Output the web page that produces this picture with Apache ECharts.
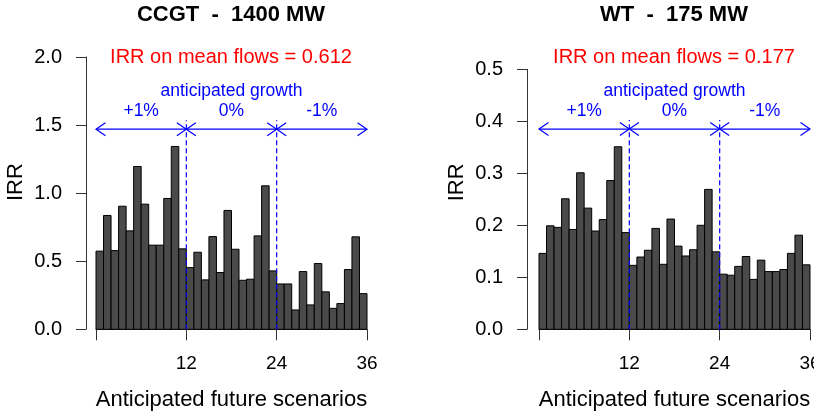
<!DOCTYPE html>
<html><head><meta charset="utf-8">
<script src="https://cdn.jsdelivr.net/npm/echarts@6/dist/echarts.min.js"></script>
<style>html,body{margin:0;padding:0;background:#fff}#c{width:814px;height:412px}</style>
</head><body><div id="c"></div>
<script>
// ---- data ----
const ccgtIRR = [0.574, 0.836, 0.578, 0.904, 0.723, 1.196, 0.919, 0.618, 0.618, 0.961, 1.343, 0.591,
                 0.453, 0.566, 0.363, 0.681, 0.417, 0.873, 0.588, 0.360, 0.368, 0.686, 1.054, 0.429,
                 0.333, 0.333, 0.142, 0.424, 0.179, 0.483, 0.275, 0.154, 0.189, 0.439, 0.679, 0.262];
const wtIRR = [0.146, 0.199, 0.196, 0.251, 0.192, 0.301, 0.233, 0.189, 0.211, 0.286, 0.351, 0.186,
               0.123, 0.139, 0.152, 0.194, 0.125, 0.212, 0.160, 0.141, 0.153, 0.200, 0.269, 0.149,
               0.106, 0.104, 0.121, 0.140, 0.096, 0.133, 0.111, 0.111, 0.115, 0.146, 0.181, 0.124];
const scenarioTicks = [0, 12, 24, 36];
const growthBoundaries = [12, 24];
const growthSegments = [[0, 12], [12, 24], [24, 36]];
const growthLabels = ['+1%', '0%', '-1%'];
const growthTitle = 'anticipated growth';
const ccgtTitle = 'CCGT  -  1400 MW';
const wtTitle = 'WT  -  175 MW';
const ccgtMeanIRR = 0.612;
const wtMeanIRR = 0.177;
const ccgtTicks = [0, 0.5, 1.0, 1.5, 2.0];
const wtTicks = [0, 0.1, 0.2, 0.3, 0.4, 0.5];

// ---- styles / layout ----
const FONT = '"Liberation Sans", Arial, sans-serif';
const BLUE = '#0000ff';
const AXIS = '#333';
const ccgtArrowLevel = 1.47;
const wtArrowLevel = 0.385;

function barSeries(xIdx, yIdx, values) {
  return {
    type: 'custom', xAxisIndex: xIdx, yAxisIndex: yIdx, silent: true, clip: false,
    encode: {x: [0, 1], y: 2},
    data: values.map((v, i) => [i, i + 1, v]),
    renderItem: function (params, api) {
      const p0 = api.coord([api.value(0), 0]);
      const p1 = api.coord([api.value(1), api.value(2)]);
      return {type: 'rect', shape: {x: p0[0], y: p1[1], width: p1[0] - p0[0], height: p0[1] - p1[1]},
        style: {fill: '#4a4a4a', stroke: '#000', lineWidth: 1}};
    }
  };
}
function arrowSeries(xIdx, yIdx, level) {
  return {
    type: 'custom', xAxisIndex: xIdx, yAxisIndex: yIdx, silent: true, clip: false,
    encode: {x: [0, 1], y: 2},
    data: growthSegments.map(s => [s[0], s[1], level]),
    renderItem: function (params, api) {
      const p0 = api.coord([api.value(0), api.value(2)]);
      const p1 = api.coord([api.value(1), api.value(2)]);
      const y = p0[1];
      const ah = 9.5, aw = 6.5;
      const st = {stroke: BLUE, lineWidth: 1.2, fill: null};
      const children = [
        {type: 'line', shape: {x1: p0[0], y1: y, x2: p1[0], y2: y}, style: st},
        {type: 'polyline', shape: {points: [[p0[0] + ah, y - aw], [p0[0], y], [p0[0] + ah, y + aw]]}, style: st},
        {type: 'polyline', shape: {points: [[p1[0] - ah, y - aw], [p1[0], y], [p1[0] - ah, y + aw]]}, style: st},
        {type: 'text', x: (p0[0] + p1[0]) / 2, y: y - 18,
          style: {text: growthLabels[params.dataIndex], fill: BLUE, font: '17.5px ' + FONT, align: 'center', verticalAlign: 'middle'}}
      ];
      if (params.dataIndex === 1) {
        children.push({type: 'text', x: (p0[0] + p1[0]) / 2, y: y - 38,
          style: {text: growthTitle, fill: BLUE, font: '17.5px ' + FONT, align: 'center', verticalAlign: 'middle'}});
      }
      return {type: 'group', children: children};
    }
  };
}
function dashSeries(xIdx, yIdx, level) {
  return {
    type: 'custom', xAxisIndex: xIdx, yAxisIndex: yIdx, silent: true, clip: false,
    encode: {x: 0, y: 1},
    data: growthBoundaries.map(b => [b, 0, level]),
    renderItem: function (params, api) {
      const p0 = api.coord([api.value(0), api.value(1)]);
      const p1 = api.coord([api.value(0), api.value(2)]);
      return {type: 'line', shape: {x1: p0[0], y1: p0[1], x2: p1[0], y2: p1[1] - 9},
        style: {stroke: BLUE, lineWidth: 1.2, lineDash: [5, 3]}};
    }
  };
}
function valXAxis(g) {
  return {
    type: 'value', gridIndex: g, position: 'bottom', min: scenarioTicks[0], max: scenarioTicks[scenarioTicks.length - 1],
    interval: scenarioTicks[1] - scenarioTicks[0],
    axisLine: {show: true, onZero: false, lineStyle: {color: AXIS, width: 1}},
    axisTick: {show: true, length: 11, lineStyle: {color: AXIS}},
    axisLabel: {formatter: v => v === 0 ? '' : String(v), fontSize: 19, color: '#000', fontFamily: FONT, margin: 25,
      showMaxLabel: true, showMinLabel: true, hideOverlap: false},
    splitLine: {show: false},
    name: 'Anticipated future scenarios', nameLocation: 'middle', nameGap: 60,
    nameTextStyle: {fontSize: 22, color: '#000', fontFamily: FONT}
  };
}
function yAxis(g, ticks, offset, pad) {
  return {
    type: 'value', gridIndex: g, position: 'left', min: ticks[0], max: ticks[ticks.length - 1], interval: ticks[1] - ticks[0], offset: offset,
    axisLine: {show: true, onZero: false, lineStyle: {color: AXIS, width: 1}},
    axisTick: {show: true, length: 10, lineStyle: {color: AXIS}},
    axisLabel: {formatter: v => v.toFixed(1), fontSize: 20, color: '#000', fontFamily: FONT, margin: 24},
    splitLine: {show: false},
    name: 'IRR', nameLocation: 'middle', nameGap: 59, nameRotate: 90,
    nameTextStyle: {fontSize: 22, color: '#000', fontFamily: FONT, padding: [0, 0, 0, pad]}
  };
}
function txt(x, y, text, size, color, weight) {
  return {type: 'text', x: x, y: y, silent: true,
    style: {text: text, fill: color, font: (weight || 'normal') + ' ' + size + 'px ' + FONT, align: 'center', verticalAlign: 'middle'}};
}

const chart = echarts.init(document.getElementById('c'), null, {renderer: 'canvas'});
chart.setOption({
  animation: false,
  backgroundColor: '#fff',
  grid: [
    {left: 96, width: 271, top: 57, height: 272.3, outerBoundsMode: 'none', containLabel: false},
    {left: 539, width: 271, top: 69.3, height: 260, outerBoundsMode: 'none', containLabel: false}
  ],
  xAxis: [valXAxis(0), valXAxis(1)],
  yAxis: [yAxis(0, ccgtTicks, 10, 22), yAxis(1, wtTicks, 12, 34)],
  series: [
    barSeries(0, 0, ccgtIRR),
    dashSeries(0, 0, ccgtArrowLevel),
    arrowSeries(0, 0, ccgtArrowLevel),
    barSeries(1, 1, wtIRR),
    dashSeries(1, 1, wtArrowLevel),
    arrowSeries(1, 1, wtArrowLevel)
  ],
  graphic: [
    txt(231, 15, ccgtTitle, 22, '#000', 'bold'),
    txt(674, 15, wtTitle, 22, '#000', 'bold'),
    txt(231, 57, 'IRR on mean flows = ' + ccgtMeanIRR.toFixed(3), 20, '#ff0000'),
    txt(674, 57, 'IRR on mean flows = ' + wtMeanIRR.toFixed(3), 20, '#ff0000')
  ]
});
</script></body></html>
